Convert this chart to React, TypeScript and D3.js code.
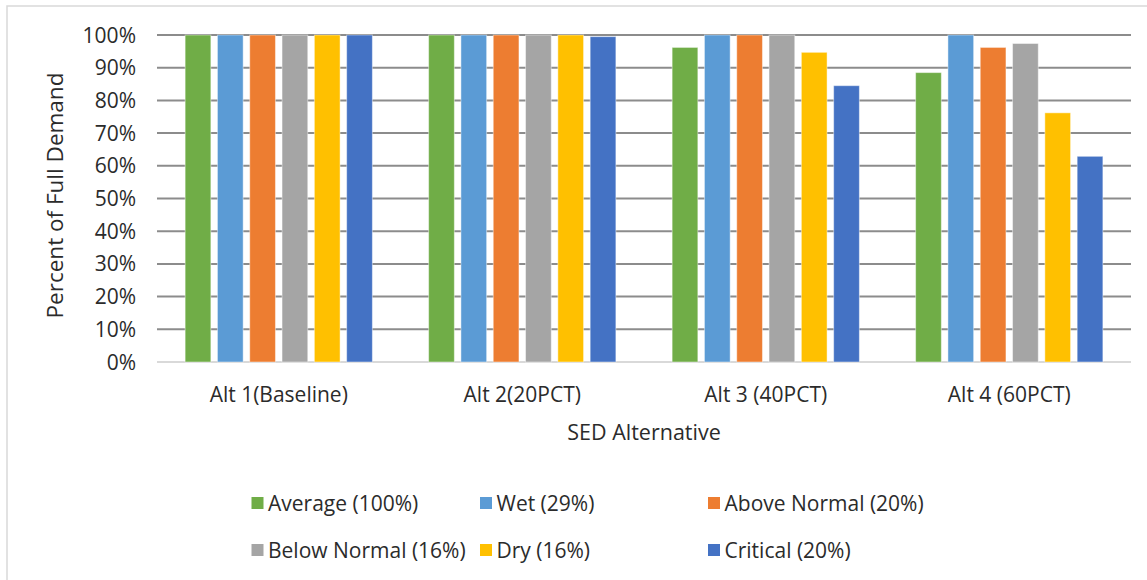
import React from "react";
import * as d3 from "d3";

const categories = ["Alt 1(Baseline)", "Alt 2(20PCT)", "Alt 3 (40PCT)", "Alt 4 (60PCT)"];
const seriesNames = ["Average (100%)", "Wet (29%)", "Above Normal (20%)", "Below Normal (16%)", "Dry (16%)", "Critical (20%)"];
const seriesColors = ["#70ad47", "#5b9bd5", "#ed7d31", "#a5a5a5", "#ffc000", "#4472c4"];
const average = [1.0, 1.0, 0.962, 0.885];
const wet = [1.0, 1.0, 1.0, 1.0];
const aboveNormal = [1.0, 1.0, 1.0, 0.962];
const belowNormal = [1.0, 1.0, 1.0, 0.974];
const dry = [1.0, 1.0, 0.947, 0.762];
const critical = [1.0, 0.995, 0.845, 0.629];
const yTicks = [0, 0.1, 0.2, 0.3, 0.4, 0.5, 0.6, 0.7, 0.8, 0.9, 1.0];

const seriesValues = [average, wet, aboveNormal, belowNormal, dry, critical];

const FONT = "'Open Sans', sans-serif";
const TEXT = "#2b2b2b";

export default function App() {
  const W = 1147, H = 580;
  const left = 157, right = 1131, top = 35, bottom = 362;
  const x0 = d3.scaleBand<string>().domain(categories).range([left, right]).paddingInner(0.231).paddingOuter(0.1155);
  const x1 = d3.scaleBand<string>().domain(seriesNames).range([0, x0.bandwidth()]).paddingInner(0.204).paddingOuter(0);
  const y = d3.scaleLinear().domain([0, 1]).range([bottom, top]);
  const fmt = d3.format(".0%");

  const legendCols = [251.5, 480, 708];
  const legendRows = [503, 550];

  return (
    <svg width={W} height={H} style={{ position: "absolute", left: 0, top: 0 }} fontFamily={FONT}>
      <rect x={0} y={0} width={W} height={H} fill="#fff" />
      <rect x={7} y={6} width={1160} height={600} fill="none" stroke="#d9d9d9" strokeWidth={1.5} />
      {yTicks.map((t) => (
        <g key={t}>
          <line x1={left} x2={right} y1={y(t)} y2={y(t)} stroke={t === 0 ? "#d9d9d9" : "#8c8c8c"} strokeWidth={2} />
          <text x={136} y={y(t)} dy="0.36em" textAnchor="end" fontSize={21} fill={TEXT}>{fmt(t)}</text>
        </g>
      ))}
      {categories.map((c, ci) => (
        <g key={c}>
          {seriesNames.map((s, si) => {
            const v = seriesValues[si][ci];
            const bx = (x0(c) as number) + (x1(s) as number);
            return (
              <rect key={s} x={bx} y={y(v)} width={x1.bandwidth()} height={y(0) - y(v)} fill={seriesColors[si]} stroke="#ffffff" strokeOpacity={0.45} strokeWidth={1} />
            );
          })}
          <text x={(x0(c) as number) + x0.bandwidth() / 2} y={394} dy="0.36em" textAnchor="middle" fontSize={21} fill={TEXT}>{c}</text>
        </g>
      ))}
      <text x={(left + right) / 2} y={432} dy="0.36em" textAnchor="middle" fontSize={21.5} fill={TEXT}>SED Alternative</text>
      <text transform={`translate(55,${(top + bottom) / 2 - 3}) rotate(-90)`} dy="0.36em" textAnchor="middle" fontSize={22.5} fill={TEXT}>Percent of Full Demand</text>
      {seriesNames.map((s, i) => {
        const cx = legendCols[i % 3];
        const cy = legendRows[Math.floor(i / 3)];
        return (
          <g key={s}>
            <rect x={cx} y={cy - 6} width={12} height={12} fill={seriesColors[i]} />
            <text x={cx + 16.5} y={cy} dy="0.36em" fontSize={21} fill={TEXT}>{s}</text>
          </g>
        );
      })}
    </svg>
  );
}
